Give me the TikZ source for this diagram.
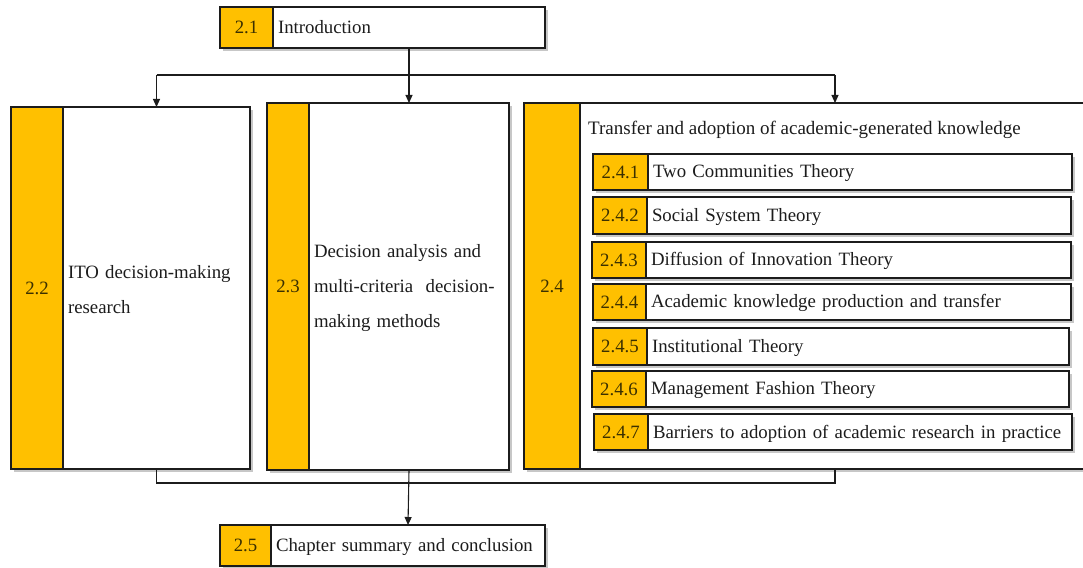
\documentclass[tikz,border=0pt]{standalone}
\usepackage{fontspec}
\setmainfont{Liberation Serif}
\usetikzlibrary{arrows.meta,shadows}
\definecolor{gold}{HTML}{FFC000}
\definecolor{ink}{HTML}{1C1C1C}
\definecolor{numink}{HTML}{3B3000}

% strut that sets the baseline a little below the cell's middle
\newcommand\cellstrut{\rule[-4pt]{0pt}{20pt}}

% one section row: yellow number cell followed by a white title cell
% #1 name, #2 left x, #3 top y, #4 number-cell width, #5 total width,
% #6 height, #7 number, #8 title
\newcommand\secrow[8]{%
  \pgfmathsetlengthmacro\secTextW{#5-#4-10}%
  \node[numcell, minimum width=#4pt, minimum height=#6pt] (#1N) at (#2,#3) {\cellstrut#7};
  \node[txtcell, minimum height=#6pt, text width=\secTextW] (#1T) at (#2+#4,#3) {\cellstrut#8};
}

\begin{document}
\begin{tikzpicture}[x=1pt,y=-1pt,
  base/.style={draw=ink, line width=1.1pt, inner sep=0pt, outer sep=0pt,
    anchor=north west, font=\fontsize{18.8}{35}\selectfont},
  shade/.style={drop shadow={shadow xshift=3pt,shadow yshift=-3pt,fill=black,opacity=0.22}},
  numcell/.style={base, fill=gold, text=numink, shade},
  txtcell/.style={base, fill=white, text=ink, align=left, inner xsep=5pt, shade},
  link/.style={draw=ink, line width=1.1pt},
  arr/.style={link, -{Triangle[length=8pt,width=7pt]}},
]
\useasboundingbox (0,0) rectangle (1083,567);
\clip (0,0) rectangle (1083,567);

% top and bottom sections
\secrow{intro}{220}{7}{53}{325}{41}{2.1}{Introduction}
\secrow{conc}{220}{525}{51}{325}{41}{2.5}{Chapter summary and conclusion}

% three main sections
\secrow{sA}{11}{107}{52}{239}{362}{2.2}{ITO decision-making\\research}
\secrow{sB}{267}{103}{42}{242}{367}{2.3}{Decision analysis and\\multi-criteria\ \ decision-\\making methods}
\secrow{sC}{524}{103}{56}{566}{366}{2.4}{}
\node[anchor=west, inner sep=0pt, text=ink, font=\fontsize{19}{22}\selectfont]
  (sCtitle) at (588,130) {Transfer and adoption of academic-generated knowledge};

% subsections of 2.4
\secrow{t1}{593}{154}{55}{479}{36}{2.4.1}{Two Communities Theory}
\secrow{t2}{593}{197}{54}{478}{37}{2.4.2}{Social System Theory}
\secrow{t3}{592}{242}{54}{479}{36}{2.4.3}{Diffusion of Innovation Theory}
\secrow{t4}{593}{284}{53}{478}{36}{2.4.4}{Academic knowledge production and transfer}
\secrow{t5}{593}{328}{54}{476}{37}{2.4.5}{Institutional Theory}
\secrow{t6}{592}{371}{54}{477}{36}{2.4.6}{Management Fashion Theory}
\secrow{t7}{594}{414}{54}{478}{36}{2.4.7}{Barriers to adoption of academic research in practice}

% fan-out from the introduction
\coordinate (busTop) at (409,75);
\coordinate (busBot) at (409,483);
\draw[link] (sAT.north |- busTop) -- (sCT.north |- busTop);
\draw[arr] (sAT.north |- busTop) -- (sAT.north);
\draw[arr] (sCT.north |- busTop) -- (sCT.north);
\draw[arr] (introT.south) -- (sBT.north);

% gather into the conclusion
\draw[link] (sAT.south) -- (sAT.south |- busBot) -- (sCT.south |- busBot) -- (sCT.south);
\draw[arr] (sBT.south) -- (concT.north);
\end{tikzpicture}
\end{document}
